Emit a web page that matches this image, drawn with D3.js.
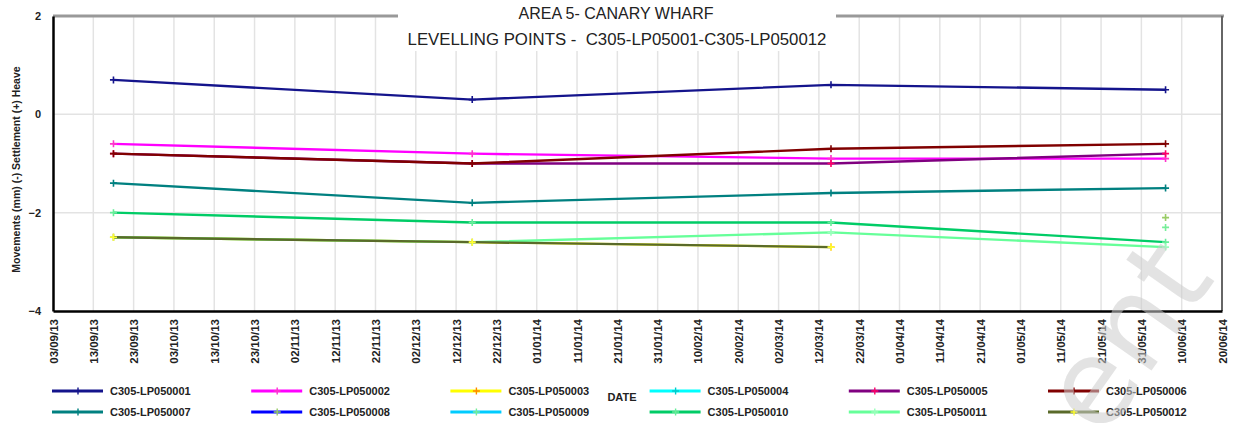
<!DOCTYPE html>
<html lang="en">
<head>
<meta charset="UTF-8">
<title>Area 5 - Canary Wharf levelling points</title>
<script src="https://d3js.org/d3.v7.min.js"></script>
<style>
    body { margin: 0; background: #fff; }
    text { font-family: "Liberation Sans", Arial, sans-serif; }
</style>
</head>
<body>
<script>

    // survey dates and readings (mm)
    const dates = ["18/09/13", "16/12/13", "15/03/14", "06/06/14"];

    const names = ["C305-LP050001", "C305-LP050002", "C305-LP050003", "C305-LP050004",
        "C305-LP050005", "C305-LP050006", "C305-LP050007", "C305-LP050008",
        "C305-LP050009", "C305-LP050010", "C305-LP050011", "C305-LP050012"];

    const lp050001 = [0.7, 0.3, 0.6, 0.5];
    const lp050002 = [-0.6, -0.8, -0.9, -0.9];
    const lp050003 = [-2.5, -2.6, -2.7, null];
    const lp050004 = [null, null, null, null];
    const lp050005 = [-0.8, -1.0, -1.0, -0.8];
    const lp050006 = [-0.8, -1.0, -0.7, -0.6];
    const lp050007 = [-1.4, -1.8, -1.6, -1.5];
    const lp050008 = [null, null, null, -2.1];
    const lp050009 = [null, null, null, -2.3];
    const lp050010 = [-2.0, -2.2, -2.2, -2.6];
    const lp050011 = [-2.5, -2.6, -2.4, -2.7];
    const lp050012 = [-2.5, -2.6, -2.7, null];

    const values = [lp050001, lp050002, lp050003, lp050004, lp050005, lp050006,
        lp050007, lp050008, lp050009, lp050010, lp050011, lp050012];

    const lineColors = ["#14148c", "#ff00ff", "#ffff00", "#00ffff", "#800080", "#800000",
        "#008080", "#0000ff", "#00ccff", "#00cc66", "#66ff99", "#5a6a2a"];
    const markColors = ["#14148c", "#ff33cc", "#ff8800", "#00cccc", "#ff0066", "#800000",
        "#008080", "#99cc66", "#77ee99", "#66ee99", "#99ffbb", "#ffff33"];

    const yTicks = [2, 0, -2, -4];
    const xFirst = "03/09/13", xLast = "20/06/14";

    const chartW = 1239, chartH = 423;
    const plotL = 53, plotR = 1222, plotT = 16, plotB = 311;

    const parse = d3.timeParse("%d/%m/%y");
    const fmt = d3.timeFormat("%d/%m/%y");

    const x = d3.scaleTime().domain([parse(xFirst), parse(xLast)]).range([plotL, plotR]);
    const y = d3.scaleLinear().domain([-4, 2]).range([plotB, plotT]);

    const xTicks = d3.range(0, 291, 10).map(d => d3.timeDay.offset(parse(xFirst), d));

    const svg = d3.select("body").append("svg")
        .attr("width", chartW)
        .attr("height", chartH);

    // grid
    svg.append("g").selectAll("line")
        .data(xTicks.slice(1, -1))
        .enter().append("line")
        .attr("x1", d => x(d)).attr("x2", d => x(d))
        .attr("y1", plotT).attr("y2", plotB)
        .attr("stroke", "#e3e3e3").attr("stroke-width", 1.5);

    svg.append("g").selectAll("line")
        .data([0, -2])
        .enter().append("line")
        .attr("x1", plotL).attr("x2", plotR)
        .attr("y1", d => y(d)).attr("y2", d => y(d))
        .attr("stroke", "#e3e3e3").attr("stroke-width", 1.5);

    // frame
    svg.append("line").attr("x1", plotL).attr("x2", plotR + 2).attr("y1", plotT).attr("y2", plotT)
        .attr("stroke", "#999").attr("stroke-width", 3);
    svg.append("line").attr("x1", plotR).attr("x2", plotR).attr("y1", plotT).attr("y2", plotB)
        .attr("stroke", "#666").attr("stroke-width", 2);

    // y axis
    const yAxis = svg.append("g")
        .attr("transform", "translate(" + plotL + ",0)")
        .call(d3.axisLeft(y).tickValues(yTicks).tickSize(0).tickPadding(12).tickFormat(d3.format("d")));
    yAxis.select(".domain").attr("stroke", "#000").attr("stroke-width", 2.5);
    yAxis.selectAll("text").attr("font-size", 11).attr("font-weight", "bold").attr("fill", "#222")
        .style("font-family", "'Liberation Sans', Arial, sans-serif");

    // x axis
    const xAxis = svg.append("g")
        .attr("transform", "translate(0," + plotB + ")")
        .call(d3.axisBottom(x).tickValues(xTicks).tickSize(0).tickFormat(fmt));
    xAxis.select(".domain").attr("stroke", "#000").attr("stroke-width", 2.5);
    xAxis.selectAll("text")
        .attr("transform", "rotate(-90)")
        .attr("text-anchor", "end")
        .attr("x", -8).attr("y", 0).attr("dy", "0.35em")
        .attr("font-size", 11.5).attr("font-weight", "bold").attr("fill", "#222")
        .style("font-family", "'Liberation Sans', Arial, sans-serif");

    // axis titles
    svg.append("text")
        .attr("transform", "translate(20," + ((plotT + plotB) / 2 + 6) + ") rotate(-90)")
        .attr("text-anchor", "middle")
        .attr("font-size", 10.5).attr("font-weight", "bold").attr("fill", "#222")
        .text("Movements (mm) (-) Settlement (+) Heave");

    svg.append("text")
        .attr("x", 622).attr("y", 401)
        .attr("text-anchor", "middle")
        .attr("font-size", 11).attr("font-weight", "bold").attr("fill", "#222")
        .text("DATE");

    // series
    const line = d3.line()
        .defined(d => d.v != null)
        .x(d => x(d.t))
        .y(d => y(d.v));

    const plus = "M-3.5,0H3.5M0,-3.5V3.5";

    values.forEach(function (vals, i) {
        const pts = vals.map((v, j) => ({t: parse(dates[j]), v: v}));
        svg.append("path")
            .datum(pts)
            .attr("d", line)
            .attr("fill", "none")
            .attr("stroke", lineColors[i])
            .attr("stroke-width", 2.4);
        svg.append("g").selectAll("path")
            .data(pts.filter(d => d.v != null))
            .enter().append("path")
            .attr("transform", d => "translate(" + x(d.t) + "," + y(d.v) + ")")
            .attr("d", plus)
            .attr("stroke", markColors[i])
            .attr("stroke-width", 1.6);
    });

    // title box
    svg.append("rect").attr("x", 398).attr("y", 0).attr("width", 438).attr("height", 51)
        .attr("fill", "#fff");
    svg.append("text").attr("x", 616).attr("y", 19).attr("text-anchor", "middle")
        .attr("font-size", 16).attr("fill", "#222")
        .text("AREA 5- CANARY WHARF");
    svg.append("text").attr("x", 617).attr("y", 45).attr("text-anchor", "middle")
        .attr("font-size", 16.8).attr("fill", "#222")
        .style("white-space", "pre")
        .text("LEVELLING POINTS -  C305-LP05001-C305-LP050012");

    // legend, two rows of six
    const legend = svg.append("g").selectAll("g")
        .data(names)
        .enter().append("g")
        .attr("transform", (d, i) => "translate(" + (52 + (i % 6) * 199.2) + "," + (i < 6 ? 391 : 412) + ")");
    legend.append("line")
        .attr("x1", 0).attr("x2", 51).attr("y1", 0).attr("y2", 0)
        .attr("stroke", (d, i) => lineColors[i]).attr("stroke-width", 3);
    legend.append("path")
        .attr("transform", "translate(26,0)")
        .attr("d", plus)
        .attr("stroke", (d, i) => markColors[i]).attr("stroke-width", 1.4);
    legend.append("text")
        .attr("x", 58).attr("y", 4)
        .attr("font-size", 11).attr("font-weight", "bold").attr("fill", "#222")
        .text(d => d);

    // faint watermark, cut by the lower edge as in the source
    svg.append("text")
        .attr("transform", "translate(1103,440) rotate(-55)")
        .attr("font-size", 120)
        .style("font-family", "'DejaVu Sans', sans-serif")
        .attr("fill", "#cccccc").attr("fill-opacity", 0.55)
        .text("ent");

</script>
</body>
</html>
